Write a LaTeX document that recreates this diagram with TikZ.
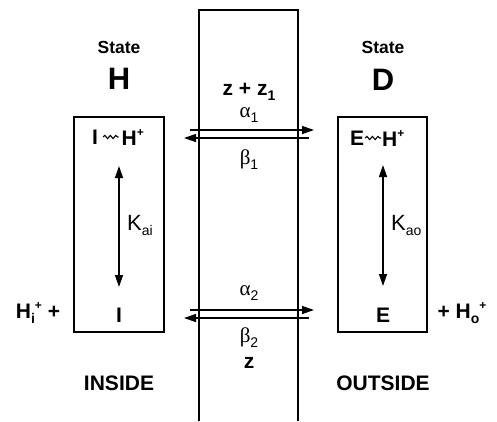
\documentclass[tikz,border=0pt]{standalone}
\usepackage{fontspec}
\setmainfont{Liberation Sans}
\newfontfamily\grkfont{Liberation Serif}
\usetikzlibrary{arrows.meta, decorations.pathmorphing}

\newcommand{\fsz}[1]{\fontsize{#1}{#1}\selectfont}
\newcommand{\subtxt}[1]{\raisebox{-5pt}{\fsz{14}#1}}
\newcommand{\suptxt}[1]{\raisebox{9pt}{\fsz{12}#1}}

\begin{document}
\begin{tikzpicture}[x=1pt, y=-1pt,
  lbl/.style={inner sep=0pt, font=\fsz{21}\bfseries},
  rate/.style={inner sep=0pt, font=\fsz{21}\grkfont},
  kconst/.style={inner sep=0pt, font=\fsz{22}, anchor=west},
  boxed/.style={draw, line width=1.3pt, inner sep=0pt},
  wall/.style={line width=1.2pt},
  flux/.style={line width=1.3pt, -{Triangle[length=12pt,width=8pt]}},
  equil/.style={line width=1.3pt, {Triangle[length=12pt,width=8pt]}-{Triangle[length=12pt,width=8pt]}},
  wiggle/.style={decorate, decoration={snake, segment length=5.5pt, amplitude=1.6pt}, line width=1.1pt},
]
\useasboundingbox (0,0) rectangle (497,421);

% membrane
\draw[wall] (199,421) -- (199,10) -- (298,10) -- (298,421);
\node[lbl] (zz) at (249,92) {z + z\subtxt{1}};
\node[rate] (al1) at (249,115) {α\subtxt{\rmfamily 1}};
\node[rate] (be1) at (249,160) {β\subtxt{\rmfamily 1}};
\node[rate] (al2) at (249,293) {α\subtxt{\rmfamily 2}};
\node[rate] (be2) at (249,338) {β\subtxt{\rmfamily 2}};
\node[lbl] (zm) at (249,363) {z};

% state H (inside)
\node[lbl, font=\fsz{17.5}\bfseries] (stH) at (119,47) {State};
\node[lbl, font=\fsz{31}\bfseries] (H) at (119,79) {H};
\node[boxed, minimum width=90, minimum height=215] (boxH) at (119,224.5) {};
\node[lbl] (Ii) at (95,137) {I};
\node[lbl, anchor=west] (Ih) at (121.5,137) {H\suptxt{+}};
\draw[wiggle] ([xshift=5]Ii.east) -- ([xshift=-3]Ih.west);
\node[lbl] (I) at (119,315) {I};
\coordinate (kHt) at (119,166);
\coordinate (kHb) at (119,287);
\draw[equil] (kHt) -- (kHb);
\node[kconst] (Kai) at (127,225) {K\subtxt{ai}};
\node[lbl] (Hi) at (38,313) {H\subtxt{i}\suptxt{+} +};
\node[lbl] (ins) at (119,383) {INSIDE};

% state D (outside)
\node[lbl, font=\fsz{17.5}\bfseries] (stD) at (383,47) {State};
\node[lbl, font=\fsz{31}\bfseries] (D) at (383,80) {D};
\node[boxed, minimum width=89, minimum height=215] (boxD) at (382.5,224.5) {};
\node[lbl] (Ee) at (357,138) {E};
\node[lbl, anchor=west] (Eh) at (382,138) {H\suptxt{+}};
\draw[wiggle] ([xshift=1]Ee.east) -- ([xshift=-1]Eh.west);
\node[lbl] (E) at (383,315) {E};
\coordinate (kDt) at (383,165);
\coordinate (kDb) at (383,286);
\draw[equil] (kDt) -- (kDb);
\node[kconst] (Kao) at (391,225) {K\subtxt{ao}};
\node[lbl] (Ho) at (462,313) {+ H\subtxt{o}\suptxt{+}};
\node[lbl] (outs) at (383,383) {OUTSIDE};

% transitions
\coordinate (a1s) at (190,130);
\coordinate (a1e) at (314,130);
\coordinate (b1s) at (309,138);
\coordinate (b1e) at (184,138);
\coordinate (a2s) at (190,310);
\coordinate (a2e) at (314,310);
\coordinate (b2s) at (309,318);
\coordinate (b2e) at (184,318);
\draw[flux] (a1s) -- (a1e);
\draw[flux] (b1s) -- (b1e);
\draw[flux] (a2s) -- (a2e);
\draw[flux] (b2s) -- (b2e);
\end{tikzpicture}
\end{document}
